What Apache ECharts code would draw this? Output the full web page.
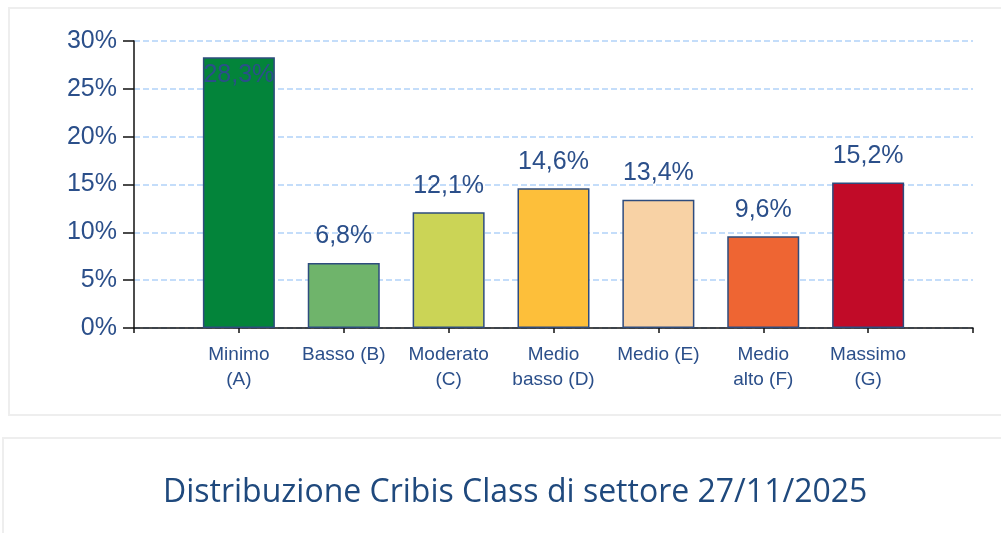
<!DOCTYPE html>
<html lang="it">
<head>
    <meta charset="UTF-8">
    <title>Distribuzione Cribis Class</title>
    <script src="https://cdn.jsdelivr.net/npm/echarts@6/dist/echarts.min.js"></script>
    <style>
        html, body { margin: 0; padding: 0; background: #fff; }
        #chart { width: 1001px; height: 533px; }
    </style>
</head>
<body>
<div id="chart"></div>
<script>
    // categorie e valori (%)
    var categories = ['Minimo\n(A)', 'Basso (B)', 'Moderato\n(C)', 'Medio\nbasso (D)', 'Medio (E)', 'Medio\nalto (F)', 'Massimo\n(G)'];
    var values = [28.3, 6.8, 12.1, 14.6, 13.4, 9.6, 15.2];
    var barColors = ['#03843a', '#6fb46b', '#cbd456', '#fdbf3a', '#f8d2a5', '#ee6533', '#c10b28'];
    var yTicks = [0, 5, 10, 15, 20, 25, 30];
    var title = 'Distribuzione Cribis Class di settore 27/11/2025';

    var textColor = '#2b4f8a';

    // asse con uno slot vuoto prima e dopo
    var axisData = [''].concat(categories, ['']);
    var seriesData = [null];
    for (var i = 0; i < values.length; i++) {
        var item = {
            value: values[i],
            itemStyle: { color: barColors[i] }
        };
        if (values[i] > yTicks[yTicks.length - 1] - 5) {
            item.label = { position: 'insideTop', distance: 5 };
        }
        seriesData.push(item);
    }
    seriesData.push(null);

    var myChart = echarts.init(document.getElementById('chart'));
    var option = {
        animation: false,
        backgroundColor: '#ffffff',
        graphic: [
            {
                type: 'rect', z: -10,
                shape: { x: 9, y: 8, width: 1000, height: 407 },
                style: { fill: '#fff', stroke: '#eeeeee', lineWidth: 2 }
            },
            {
                type: 'rect', z: -10,
                shape: { x: 3, y: 438, width: 1006, height: 100 },
                style: { fill: '#fff', stroke: '#eeeeee', lineWidth: 2 }
            }
        ],
        title: {
            text: title,
            left: 158,
            top: 472,
            textStyle: {
                fontFamily: 'Open Sans',
                fontWeight: 'normal',
                fontSize: 32,
                color: '#1f497d'
            }
        },
        grid: { left: 134, right: 28, top: 41, bottom: 205 },
        xAxis: {
            type: 'category',
            data: axisData,
            boundaryGap: false,
            axisLine: { lineStyle: { color: '#111', width: 1.5 } },
            axisTick: { show: true, length: 5, lineStyle: { color: '#111', width: 1.5 } },
            axisLabel: {
                interval: 0,
                margin: 14,
                fontFamily: 'Liberation Sans',
                fontSize: 19,
                lineHeight: 25,
                color: textColor
            },
            splitLine: { show: false }
        },
        yAxis: {
            type: 'value',
            min: yTicks[0],
            max: yTicks[yTicks.length - 1],
            interval: 5,
            axisLine: { show: true, lineStyle: { color: '#111', width: 1.5 } },
            axisTick: { show: true, length: 11, lineStyle: { color: '#111', width: 1.5 } },
            axisLabel: {
                margin: 17,
                fontFamily: 'Liberation Sans',
                fontSize: 25,
                color: textColor,
                formatter: function (v) { return v + '%'; }
            },
            splitLine: {
                show: true,
                lineStyle: { color: '#c4ddfa', type: [6, 3], width: 2 }
            }
        },
        series: [
            {
                type: 'bar',
                data: seriesData,
                barWidth: 72,
                itemStyle: { borderColor: '#2e4c7e', borderWidth: 1.5 },
                label: {
                    show: true,
                    position: 'top',
                    distance: 14,
                    fontFamily: 'Liberation Sans',
                    fontSize: 25,
                    color: textColor,
                    formatter: function (p) {
                        return String(p.value).replace('.', ',') + '%';
                    }
                }
            }
        ]
    };
    myChart.setOption(option);
</script>
</body>
</html>
